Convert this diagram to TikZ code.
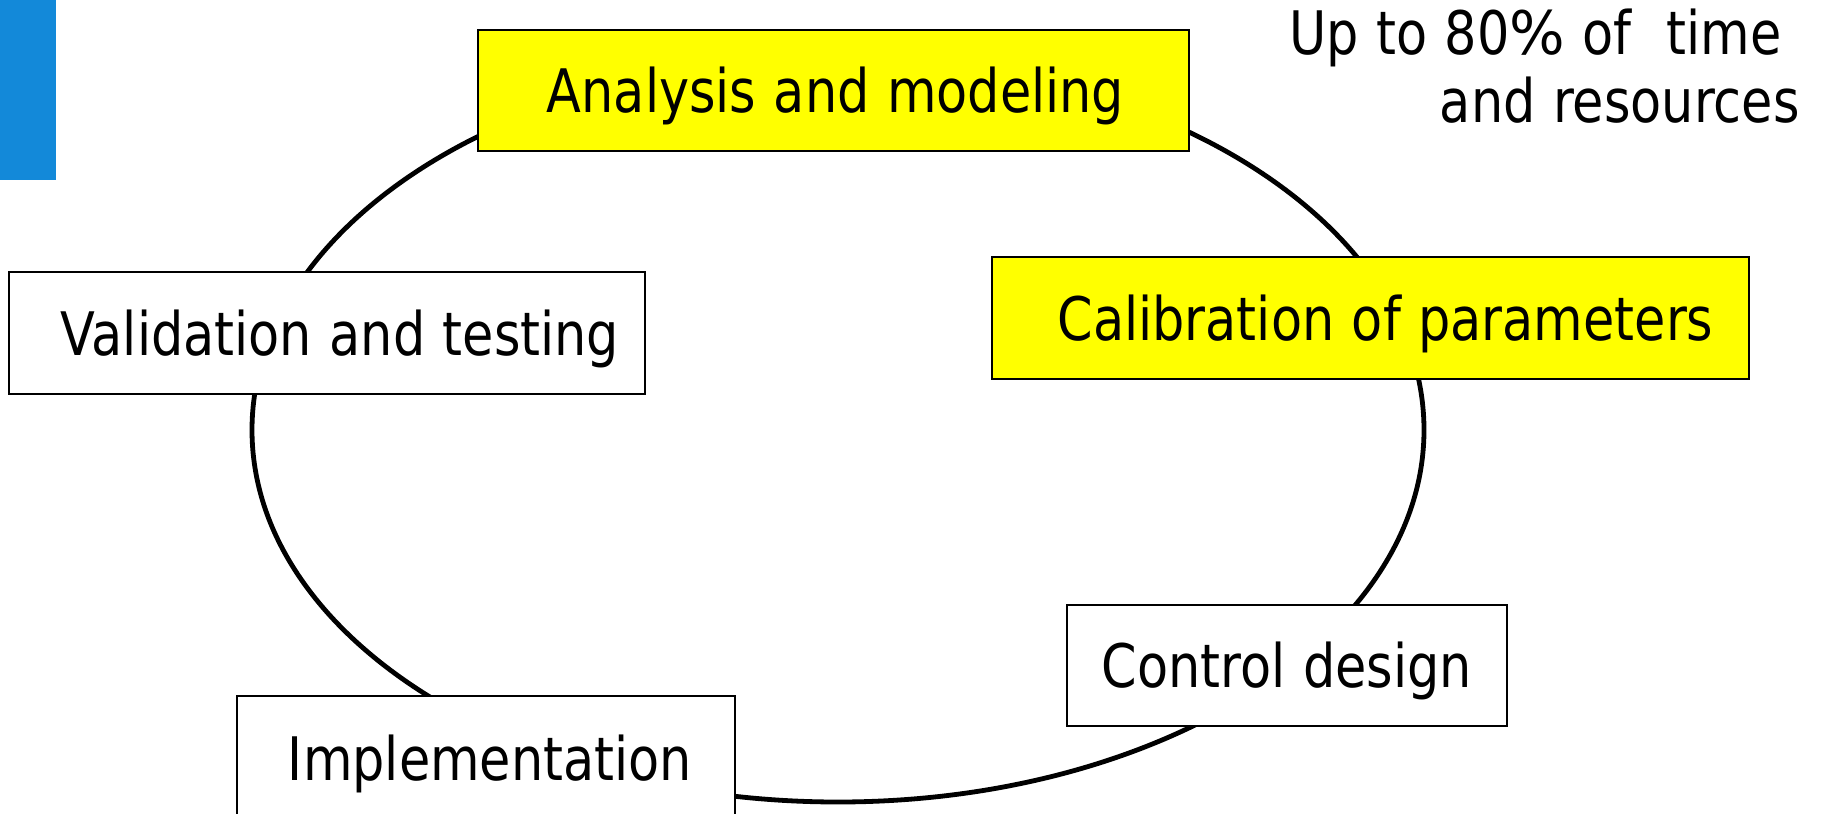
\documentclass[tikz,border=0pt]{standalone}
\usepackage{fontspec}
\newfontfamily\labelfont[FakeStretch=0.848,WordSpace=1.08]{DejaVu Sans}
\definecolor{barblue}{RGB}{19,137,217}
\definecolor{stageyellow}{RGB}{255,255,0}
\newcommand{\widepct}{\scalebox{1.15}[1]{\%}}
\begin{document}
\begin{tikzpicture}[x=0.5pt,y=-0.5pt,
  stagebox/.style={draw=black, line width=1pt, fill=white, inner sep=0pt},
  keystage/.style={stagebox, fill=stageyellow},
  stagetext/.style={font=\labelfont\fontsize{30}{36}\selectfont, anchor=base, inner sep=0pt},
  cycleline/.style={line width=2.4pt}]
\useasboundingbox (0,0) rectangle (1821,814);
\clip (0,0) rectangle (1821,814);

% side bar
\fill[barblue] (0,0) rectangle (56,180);

% the development cycle
\draw[cycleline] (838,430) ellipse [x radius=586, y radius=372];

% stages on the cycle
\node (ana) [keystage, minimum width=355.5pt, minimum height=60.5pt] at (833.5,90.5) {};
\node (cal) [keystage, minimum width=378.5pt, minimum height=61pt] at (1370.5,318) {};
\node (val) [stagebox, minimum width=318pt, minimum height=61pt] at (327,333) {};
\node (ctl) [stagebox, minimum width=220pt, minimum height=60.5pt] at (1287,665.5) {};
\node (imp) [stagebox, minimum width=249pt, minimum height=62pt] at (486,758) {};

\node (anat) [stagetext] at ([xshift=1pt,yshift=-11pt]ana.center) {Analysis and modeling};
\node (calt) [stagetext] at ([xshift=7.5pt,yshift=-11pt]cal.center) {Calibration of parameters};
\node (valt) [stagetext] at ([xshift=6.5pt,yshift=-11pt]val.center) {Validation and testing};
\node (ctlt) [stagetext] at ([xshift=0pt,yshift=-11pt]ctl.center) {Control design};
\node (impt) [stagetext] at ([xshift=2pt,yshift=-11pt]imp.center) {Implementation};

% effort note
\node (note1) [stagetext, anchor=base east] at (1782,54) {Up to 80\widepct{} of\ \ time};
\node (note2) [stagetext, anchor=base east] at (1800,122) {and resources};
\end{tikzpicture}
\end{document}
